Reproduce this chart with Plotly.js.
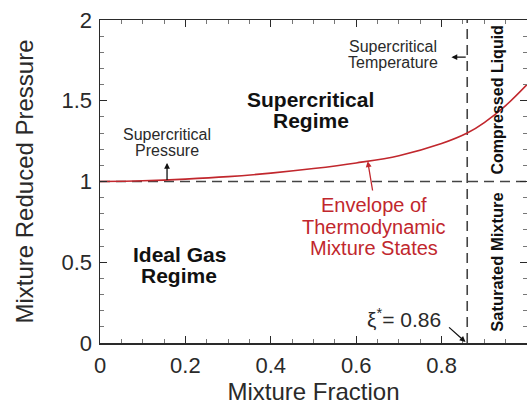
<!DOCTYPE html>
<html>
<head>
<meta charset="utf-8">
<script src="https://cdn.plot.ly/plotly-3.0.1.min.js"></script>
<style>html,body{margin:0;padding:0;background:#fff;}#chart{width:527px;height:408px;}</style>
</head>
<body>
<div id="chart"></div>
<script>
// Envelope of thermodynamic mixture states
const mixtureFraction = [0, 0.1, 0.2, 0.3, 0.4, 0.5, 0.6, 0.7, 0.8, 0.86, 0.9, 0.95, 1.0];
const reducedPressure = [1.0, 1.005, 1.015, 1.03, 1.052, 1.08, 1.115, 1.16, 1.235, 1.30, 1.365, 1.47, 1.60];
// reference lines
const criticalPressure = 1.0;
const xiStar = 0.86;
const xRange = [0, 1];
const yRange = [0, 2];
const xTicks = [0, 0.2, 0.4, 0.6, 0.8, 1];
const xTickLabels = ['0', '0.2', '0.4', '0.6', '0.8', '1'];
const yTicks = [0, 0.5, 1, 1.5, 2];
const yTickLabels = ['0', '0.5', '1', '1.5', '2'];

const FONT = 'Liberation Sans, Arial, Helvetica, sans-serif';
const dark = '#2a2a2a';

const traces = [
  {x: xRange, y: [criticalPressure, criticalPressure], mode: 'lines',
   line: {color: '#444', width: 1.6, dash: '10px,6px'}, hoverinfo: 'skip'},
  {x: [xiStar, xiStar], y: yRange, mode: 'lines',
   line: {color: '#444', width: 1.6, dash: '10px,6px'}, hoverinfo: 'skip'},
  {x: mixtureFraction, y: reducedPressure, mode: 'lines',
   line: {color: '#c1272d', width: 1.6, shape: 'spline'}}
];

const tf = {family: FONT, size: 16, color: dark};
const bf = {family: FONT, size: 21, color: '#111'};
const rf = {family: FONT, size: 20, color: '#c1272d'};
function t(x, y, text, font, extra) {
  return Object.assign({x: x, y: y, text: text, font: font, showarrow: false}, extra || {});
}
function arrow(x, y, ax, ay, color) {
  return {x: x, y: y, ax: ax, ay: ay, axref: 'x', ayref: 'y', text: '', showarrow: true,
          arrowhead: 2, arrowsize: 0.9, arrowwidth: 1.3, arrowcolor: color};
}
const ann = [
  t(0.685, 1.838, 'Supercritical', tf),
  t(0.685, 1.734, 'Temperature', tf),
  arrow(0.823, 1.77, xiStar, 1.77, '#111'),
  t(0.494, 1.505, '<b>Supercritical</b>', bf),
  t(0.494, 1.375, '<b>Regime</b>', bf),
  t(0.157, 1.294, 'Supercritical', tf),
  t(0.157, 1.189, 'Pressure', tf),
  arrow(0.157, 1.115, 0.157, criticalPressure, '#111'),
  t(0.185, 0.545, '<b>Ideal Gas</b>', bf),
  t(0.185, 0.421, '<b>Regime</b>', bf),
  t(0.641, 0.854, 'Envelope of', rf),
  t(0.641, 0.718, 'Thermodynamic', rf),
  t(0.641, 0.588, 'Mixture States', rf),
  arrow(0.627, 1.125, 0.639, 0.935, '#c1272d'),
  t(0.712, 0.155, 'ξ<sup>*</sup>= 0.86', {family: FONT, size: 21, color: dark}),
  arrow(0.856, 0.006, 0.814, 0.105, '#111'),
  t(0.931, 0.5, '<b>Saturated Mixture</b>', {family: FONT, size: 16.5, color: '#111'}, {textangle: -90}),
  t(0.931, 1.505, '<b>Compressed Liquid</b>', {family: FONT, size: 16, color: '#111'}, {textangle: -90})
];

const axisCommon = {
  showgrid: false, zeroline: false, showline: true, linecolor: dark, linewidth: 1.5,
  mirror: 'ticks', ticks: 'inside', ticklen: 7, tickwidth: 1.3, tickcolor: dark,
  tickfont: {family: FONT, size: 22, color: dark}, tickmode: 'array'
};

const layout = {
  width: 527, height: 408,
  margin: {l: 100, r: 0, t: 20, b: 65},
  paper_bgcolor: '#fff', plot_bgcolor: '#fff',
  showlegend: false,
  xaxis: Object.assign({}, axisCommon, {
    range: xRange, tickvals: xTicks, ticktext: xTickLabels, ticklabelstandoff: 2,
    minor: {ticks: 'inside', ticklen: 4, tickwidth: 1, tickcolor: '#777', dtick: 0.05},
    title: {text: 'Mixture Fraction', font: {family: FONT, size: 24, color: dark}, standoff: 0}
  }),
  yaxis: Object.assign({}, axisCommon, {
    range: yRange, tickvals: yTicks, ticktext: yTickLabels, ticklabelstandoff: 2,
    minor: {ticks: 'inside', ticklen: 4, tickwidth: 1, tickcolor: '#777', dtick: 0.1},
    title: {text: 'Mixture Reduced Pressure', font: {family: FONT, size: 24, color: dark}, standoff: 21}
  }),
  annotations: ann
};

Plotly.newPlot('chart', traces, layout, {displayModeBar: false, staticPlot: true});
</script>
</body>
</html>
